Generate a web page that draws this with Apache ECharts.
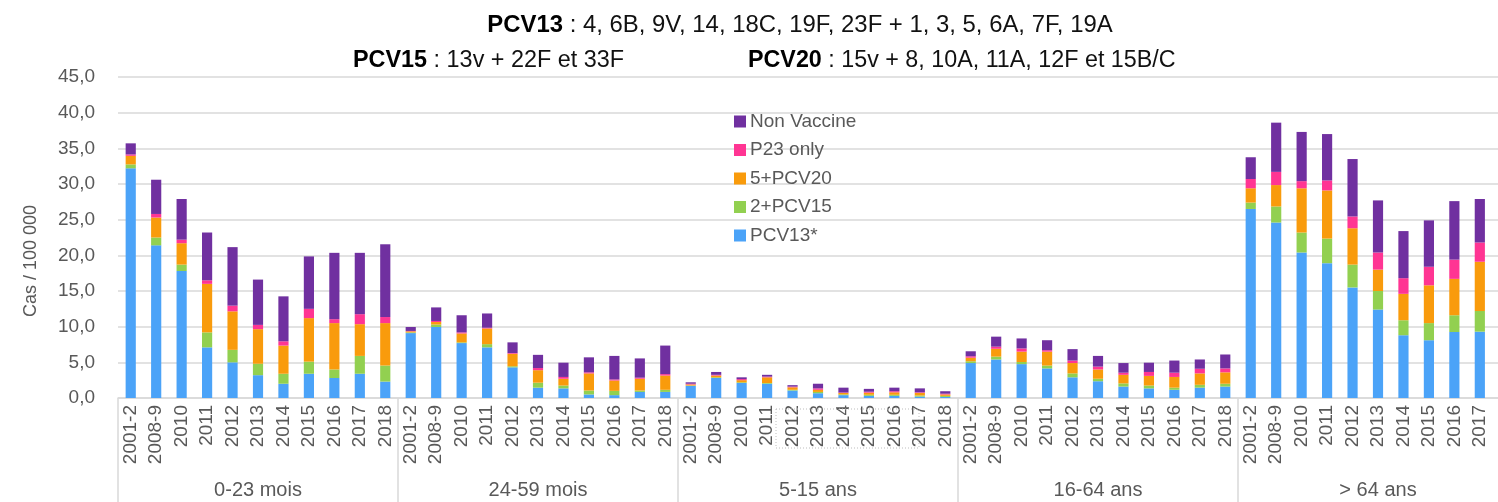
<!DOCTYPE html>
<html>
<head>
<meta charset="utf-8">
<script src="https://cdn.jsdelivr.net/npm/echarts@6/dist/echarts.min.js"></script>
<style>
html,body{margin:0;padding:0;background:#fff;overflow:hidden;width:1498px;height:502px;}
#c{width:1518px;height:502px;}
</style>
</head>
<body>
<div id="c"></div>
<script>
const groups = ['0-23 mois', '24-59 mois', '5-15 ans', '16-64 ans', '> 64 ans'];
const years = ['2001-2', '2008-9', '2010', '2011', '2012', '2013', '2014', '2015', '2016', '2017', '2018'];
const yTicks = [0, 5, 10, 15, 20, 25, 30, 35, 40, 45];

// values per group, 11 years each
const pcv13 = [
  32.2, 21.4, 17.8, 7.1, 5.0, 3.2, 2.0, 3.4, 2.8, 3.4, 2.3,
  9.1, 9.95, 7.7, 7.1, 4.3, 1.45, 1.35, 0.5, 0.4, 0.85, 0.85,
  1.7, 2.8, 2.1, 2.0, 1.05, 0.67, 0.4, 0.3, 0.3, 0.2, 0.15,
  4.9, 5.4, 4.75, 4.15, 2.9, 2.35, 1.6, 1.35, 1.15, 1.45, 1.6,
  26.5, 24.6, 20.4, 18.9, 15.5, 12.4, 8.8, 8.1, 9.25, 9.3, 9.0
];
const pcv15 = [
  0.55, 1.1, 0.9, 2.1, 1.75, 1.6, 1.4, 1.7, 1.2, 2.5, 2.25,
  0.1, 0.35, 0.1, 0.45, 0.15, 0.7, 0.4, 0.55, 0.6, 0.2, 0.3,
  0.05, 0.1, 0.1, 0.1, 0.1, 0.18, 0.1, 0.15, 0.15, 0.15, 0.15,
  0.25, 0.4, 0.3, 0.4, 0.55, 0.35, 0.45, 0.4, 0.3, 0.4, 0.4,
  0.9, 2.25, 2.8, 3.45, 3.2, 2.6, 2.1, 2.4, 2.35, 2.9, 2.6
];
const pcv20 = [
  1.2, 2.8, 3.0, 6.8, 5.4, 4.85, 3.95, 6.1, 6.5, 4.45, 5.95,
  0.15, 0.35, 1.25, 2.2, 1.75, 1.75, 0.95, 2.4, 1.45, 1.65, 2.0,
  0.15, 0.25, 0.3, 0.8, 0.35, 0.3, 0.2, 0.3, 0.35, 0.37, 0.2,
  0.5, 1.1, 1.45, 1.95, 1.45, 1.3, 1.2, 1.35, 1.5, 1.6, 1.6,
  2.0, 3.0, 6.2, 6.75, 5.1, 3.0, 3.7, 5.3, 5.1, 6.9, 7.0
];
const p23 = [
  0.2, 0.5, 0.5, 0.5, 0.8, 0.6, 0.6, 1.3, 0.55, 1.4, 0.85,
  0.05, 0.15, 0.15, 0.1, 0.1, 0.3, 0.25, 0.15, 0.15, 0.15, 0.2,
  0.1, 0.1, 0.15, 0.1, 0.1, 0.2, 0.07, 0.13, 0.15, 0.08, 0.1,
  0.2, 0.3, 0.45, 0.2, 0.35, 0.4, 0.3, 0.55, 0.6, 0.65, 0.55,
  1.3, 1.85, 1.0, 1.4, 1.65, 2.4, 2.2, 2.6, 2.7, 2.7, 2.5
];
const nonVaccine = [
  1.55, 4.8, 5.7, 6.7, 8.2, 6.35, 6.3, 7.35, 9.3, 8.6, 10.2,
  0.55, 1.9, 2.4, 2.0, 1.5, 1.85, 2.0, 2.1, 3.3, 2.7, 4.0,
  0.2, 0.4, 0.25, 0.25, 0.2, 0.65, 0.68, 0.4, 0.5, 0.55, 0.35,
  0.7, 1.4, 1.4, 1.4, 1.6, 1.5, 1.35, 1.3, 1.7, 1.3, 1.95,
  3.05, 6.9, 6.9, 6.5, 8.05, 7.3, 6.6, 6.5, 8.2, 6.1, 6.4
];

const seriesNames = ['PCV13*', '2+PCV15', '5+PCV20', 'P23 only', 'Non Vaccine'];
const seriesColors = ['#4BA3F8', '#92D050', '#F99B0C', '#FF3593', '#7030A0'];
const seriesData = [pcv13, pcv15, pcv20, p23, nonVaccine];

const cats = [];
groups.forEach(function (g) { years.forEach(function (y) { cats.push(y); }); });

const FONT = 'Liberation Sans, Arial, Helvetica, sans-serif';
const chart = echarts.init(document.getElementById('c'), null, { renderer: 'canvas' });

function titleStyle(size) {
  return { fontSize: size, fontWeight: 'normal', color: '#111', fontFamily: FONT,
    rich: { b: { fontSize: size, fontWeight: 'bold', color: '#000', fontFamily: FONT } } };
}

const option = {
  backgroundColor: '#ffffff',
  animation: false,
  textStyle: { fontFamily: FONT },
  title: [
    {
      text: '{b|PCV13} : 4, 6B, 9V, 14, 18C, 19F, 23F + 1, 3, 5, 6A, 7F, 19A',
      left: 795, top: 8, textAlign: 'center',
      textStyle: titleStyle(23.9)
    },
    {
      text: '{b|PCV15} : 13v + 22F et 33F',
      left: 348, top: 44,
      textStyle: titleStyle(23.4)
    },
    {
      text: '{b|PCV20} : 15v + 8, 10A, 11A, 12F et 15B/C',
      left: 743, top: 44,
      textStyle: titleStyle(23.3)
    }
  ],
  legend: {
    orient: 'vertical',
    left: 729, top: 107,
    itemWidth: 12, itemHeight: 12, itemGap: 9.5,
    icon: 'rect',
    data: ['Non Vaccine', 'P23 only', '5+PCV20', '2+PCV15', 'PCV13*'],
    textStyle: { fontSize: 19, color: '#595959', fontFamily: FONT, padding: [0, 0, 0, -1] }
  },
  grid: { left: 118, right: 0, top: 77, bottom: 104, containLabel: false },
  xAxis: [
    {
      type: 'category',
      data: cats,
      axisLine: { lineStyle: { color: '#d9d9d9', width: 1.5 } },
      axisTick: { show: false },
      axisLabel: { interval: 0, rotate: 90, fontSize: 19, color: '#595959', margin: 7, fontFamily: FONT }
    },
    {
      type: 'category',
      data: groups,
      position: 'bottom',
      axisLine: { show: false },
      axisTick: { show: true, length: 110, interval: 0, lineStyle: { color: '#d9d9d9', width: 1.5 } },
      axisLabel: { interval: 0, fontSize: 20, color: '#595959', margin: 82, fontFamily: FONT },
      splitLine: { show: false }
    }
  ],
  yAxis: {
    type: 'value',
    min: 0, max: 45, interval: 5,
    axisLine: { show: false },
    axisTick: { show: false },
    splitLine: { lineStyle: { color: '#d9d9d9', width: 1.5 } },
    axisLabel: {
      fontSize: 19, color: '#595959', margin: 23, fontFamily: FONT,
      formatter: function (v) { return yTicks.indexOf(v) >= 0 ? v.toFixed(1).replace('.', ',') : ''; }
    }
  },
  series: seriesNames.map(function (n, i) {
    return {
      name: n,
      type: 'bar',
      stack: 'total',
      xAxisIndex: 0,
      barWidth: '40%',
      data: seriesData[i],
      itemStyle: { color: seriesColors[i] },
      emphasis: { disabled: true }
    };
  }),
  graphic: [
    {
      type: 'text',
      left: 22, top: 205,
      rotation: Math.PI / 2,
      style: { text: 'Cas / 100 000', fontSize: 18, fill: '#595959', fontFamily: FONT },
      z: 10
    },
    {
      type: 'rect',
      shape: { x: 776, y: 409, width: 143, height: 39 },
      style: { fill: 'none', stroke: '#bdbdbd', lineWidth: 1, lineDash: [1, 2] },
      z: 10
    }
  ]
};
chart.setOption(option);
</script>
</body>
</html>
